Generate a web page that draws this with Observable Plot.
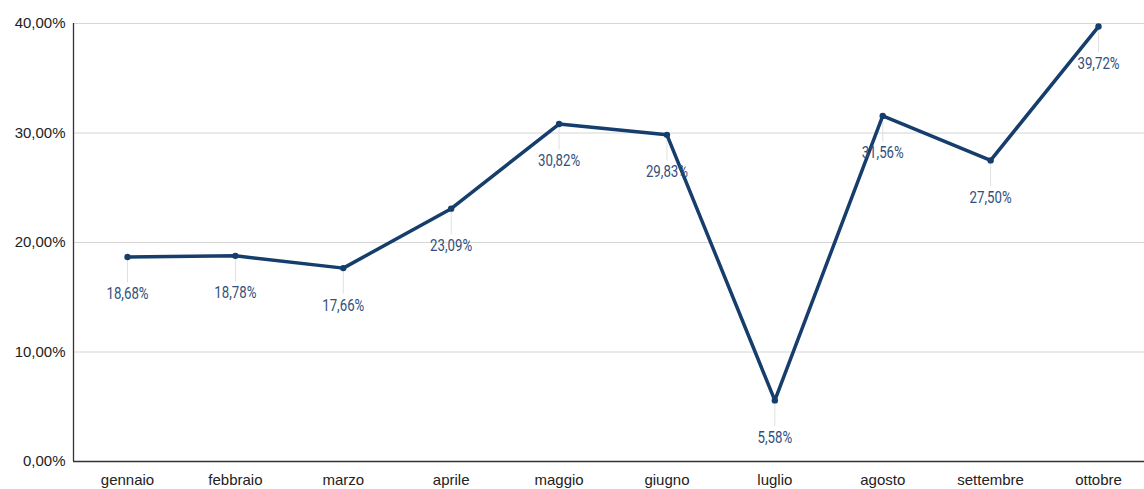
<!DOCTYPE html>
<html>
<head>
<meta charset="utf-8">
<script src="https://cdn.jsdelivr.net/npm/d3@7"></script>
<script src="https://cdn.jsdelivr.net/npm/@observablehq/plot@0.6"></script>
<style>
  html, body { margin: 0; padding: 0; background: #fff; }
  #chart svg { display: block; }
</style>
</head>
<body>
<div id="chart"></div>
<script>
// Monthly share, in percent
const months = ["gennaio", "febbraio", "marzo", "aprile", "maggio", "giugno", "luglio", "agosto", "settembre", "ottobre"];
const values = [18.68, 18.78, 17.66, 23.09, 30.82, 29.83, 5.58, 31.56, 27.50, 39.72];
const yTicks = [0, 10, 20, 30, 40];

const data = months.map((m, i) => ({month: m, value: values[i]}));

const fmt = v => v.toFixed(2).replace(".", ",") + "%";
const lineColor = "#163e6c";
const labelColor = "#32507b";

// squeeze rendered text horizontally to get a condensed face
const condense = (k) => (index, scales, channels, dims, context, next) => {
  const g = next(index, scales, channels, dims, context);
  d3.select(g).selectAll("text").each(function() {
    const t = this.getAttribute("transform") || "";
    this.setAttribute("transform", `${t} scale(${k},1)`.trim());
  });
  return g;
};

// extend each leader a fixed length below its point
const leader = (len) => (index, scales, channels, dims, context, next) => {
  const g = next(index, scales, channels, dims, context);
  d3.select(g).selectAll("line").each(function() {
    this.setAttribute("y2", +this.getAttribute("y1") + len);
  });
  return g;
};

const chart = Plot.plot({
  width: 1144,
  height: 489,
  marginLeft: 73,
  marginRight: 0,
  marginTop: 23,
  marginBottom: 28,
  style: {fontFamily: "'Liberation Sans', Arial, sans-serif", fontSize: "15px", color: "#222", background: "#fff"},
  x: {type: "point", domain: months, range: [127, 1098], padding: 0, round: false, label: null, tickSize: 0, tickPadding: 13},
  y: {domain: [0, 40], ticks: yTicks, tickFormat: fmt, label: null, tickSize: 0, tickPadding: 8},
  marks: [
    Plot.gridY(yTicks, {stroke: "#d6d6d6", strokeOpacity: 1, strokeWidth: 1.2}),
    Plot.ruleX(data, {x: "month", y1: "value", y2: "value", stroke: "#e0e0e0", strokeWidth: 1, render: leader(26)}),
    Plot.ruleY([0], {stroke: "#333", strokeWidth: 1.3}),
    Plot.line(data, {x: "month", y: "value", stroke: lineColor, strokeWidth: 3.5, strokeLinejoin: "round"}),
    Plot.dot(data, {x: "month", y: "value", r: 3.2, fill: lineColor, stroke: "none"}),
    Plot.text(data, {
      x: "month", y: "value", text: d => fmt(d.value), dy: 37,
      fill: labelColor, fontSize: 17, fontFamily: "Roboto, sans-serif",
      render: condense(0.78)
    })
  ]
});

// left axis line
d3.select(chart).append("line")
  .attr("x1", 73.5).attr("x2", 73.5)
  .attr("y1", 23).attr("y2", 461)
  .attr("stroke", "#333").attr("stroke-width", 1.3);

document.getElementById("chart").appendChild(chart);
</script>
</body>
</html>
